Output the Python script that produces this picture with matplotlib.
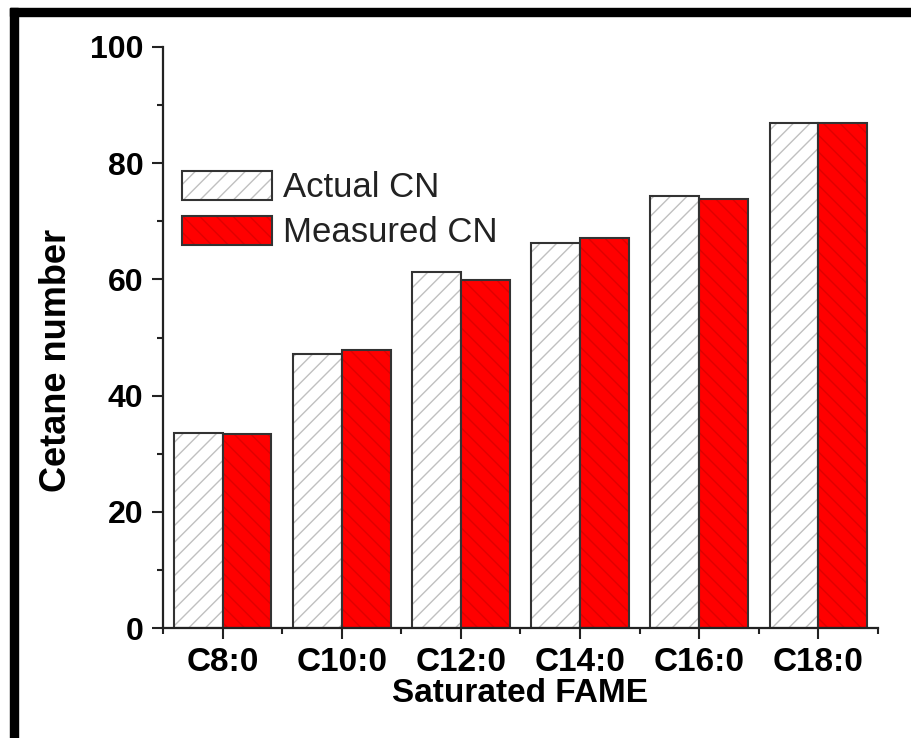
import matplotlib
matplotlib.use("Agg")
import matplotlib.pyplot as plt
from matplotlib.patches import Rectangle
from matplotlib.ticker import MultipleLocator, FixedLocator
from matplotlib.legend_handler import HandlerTuple
import numpy as np

categories = ["C8:0", "C10:0", "C12:0", "C14:0", "C16:0", "C18:0"]
actual_cn = [33.6, 47.2, 61.3, 66.2, 74.4, 86.9]
measured_cn = [33.4, 47.8, 59.9, 67.2, 73.9, 86.9]

plt.rcParams['font.family'] = ['Liberation Sans', 'DejaVu Sans']
plt.rcParams['hatch.linewidth'] = 1.0

W, H = 912, 738
fig = plt.figure(figsize=(W / 100, H / 100), dpi=100)
ax = fig.add_axes([163 / W, 1 - 628 / H, (878 - 163) / W, (628 - 47) / H])

x = np.arange(len(categories))
bw = 0.41

h1 = ax.bar(x - bw / 2, actual_cn, bw, color='white', edgecolor='#c0c0c0', hatch='//', linewidth=0)
h2 = ax.bar(x - bw / 2, actual_cn, bw, fill=False, edgecolor='#333333', linewidth=1.5)
h3 = ax.bar(x + bw / 2, measured_cn, bw, color='#ff0000', edgecolor='#e00000', hatch='\\\\', linewidth=0)
h4 = ax.bar(x + bw / 2, measured_cn, bw, fill=False, edgecolor='#333333', linewidth=1.5)

ax.set_xlim(-0.5, 5.5)
ax.set_ylim(0, 100)

for s in ['top', 'right']:
    ax.spines[s].set_visible(False)
for s in ['left', 'bottom']:
    ax.spines[s].set_linewidth(1.6)
    ax.spines[s].set_color('#222222')

ax.set_xticks(x)
ax.set_xticklabels(categories, fontsize=24, fontweight='bold')
ax.xaxis.set_minor_locator(FixedLocator(np.arange(-0.5, 6.0, 1.0)))
ax.yaxis.set_major_locator(MultipleLocator(20))
ax.yaxis.set_minor_locator(MultipleLocator(10))
ax.tick_params(axis='y', labelsize=23)
for lbl in ax.get_yticklabels():
    lbl.set_fontweight('bold')
ax.tick_params(which='major', direction='out', length=8, width=1.5, color='#222222', pad=6)
ax.tick_params(which='minor', direction='out', length=4, width=1.5, color='#222222')

ax.set_xlabel("Saturated FAME", fontsize=24, fontweight='bold', labelpad=0)
ax.set_ylabel("Cetane number", fontsize=26, fontweight='bold')
ax.yaxis.set_label_coords(-0.125, 0.461)

leg = ax.legend([(h1[0], h2[0]), (h3[0], h4[0])], ["Actual CN", "Measured CN"],
                handler_map={tuple: HandlerTuple(ndivide=1, pad=0)},
                loc='upper left', bbox_to_anchor=(0.026, 0.787), frameon=False,
                fontsize=25, handlelength=2.6, handleheight=0.92, handletextpad=0.32,
                labelspacing=0.33, borderaxespad=0, borderpad=0)
for t in leg.get_texts():
    t.set_color('#222222')

# figure border
fig.patches.append(Rectangle((10 / W, 0), 8 / W, 1 - 8 / H, transform=fig.transFigure,
                             color='black', zorder=10))
fig.patches.append(Rectangle((10 / W, 1 - 16 / H), 1, 8 / H, transform=fig.transFigure,
                             color='black', zorder=10))

fig.savefig("out.png", dpi=100)
